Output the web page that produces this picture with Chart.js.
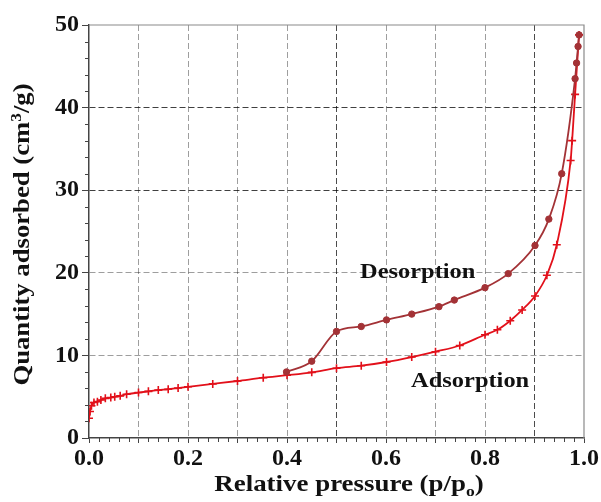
<!DOCTYPE html>
<html>
<head>
<meta charset="utf-8">
<script src="https://cdn.jsdelivr.net/npm/chart.js@4"></script>
<style>
  body { margin: 0; background: #fff; }
  #wrap { width: 601px; height: 502px; }
</style>
</head>
<body>
<div id="wrap"><canvas id="chart" width="601" height="502"></canvas></div>
<script>
// Adsorption branch (relative pressure, quantity adsorbed cm3/g)
const pressureAds = [0.000, 0.002, 0.005, 0.010, 0.017, 0.024, 0.033, 0.044, 0.052, 0.063, 0.076,
  0.100, 0.120, 0.140, 0.160, 0.180, 0.200, 0.250, 0.300, 0.352, 0.400, 0.450, 0.500, 0.550,
  0.601, 0.652, 0.700, 0.749, 0.800, 0.825, 0.851, 0.875, 0.901, 0.925, 0.945, 0.973, 0.976,
  0.982, 0.990];
const quantityAds = [2.4, 3.2, 3.9, 4.3, 4.4, 4.6, 4.8, 4.9, 5.0, 5.1, 5.3,
  5.5, 5.65, 5.8, 5.9, 6.05, 6.2, 6.55, 6.9, 7.3, 7.6, 7.95, 8.45, 8.75,
  9.2, 9.8, 10.45, 11.2, 12.5, 13.1, 14.2, 15.5, 17.2, 19.7, 23.4, 33.6, 36.0,
  41.6, 48.8];

// Desorption branch
const pressureDes = [0.399, 0.450, 0.500, 0.550, 0.601, 0.652, 0.707, 0.738, 0.800, 0.847,
  0.901, 0.929, 0.955, 0.982, 0.985, 0.988, 0.990];
const quantityDes = [8.0, 9.3, 12.9, 13.5, 14.3, 15.0, 15.9, 16.7, 18.2, 19.9,
  23.3, 26.5, 32.0, 43.5, 45.4, 47.4, 48.8];

const xTickLabels = ['0.0', '0.2', '0.4', '0.6', '0.8', '1.0'];
const yTickLabels = ['0', '10', '20', '30', '40', '50'];

const SERIF = "'Liberation Serif', 'Times New Roman', serif";
const RED = '#e2101a';
const DARK_RED = '#a33236';

const toPoints = (xs, ys) => xs.map((x, i) => ({ x, y: ys[i] }));

// Draw text made of parts (for super/subscripts), centred at 0,0 and stretched along its run.
function drawParts(ctx, parts, stretch) {
  let w = 0;
  parts.forEach(p => { ctx.font = p[1]; w += ctx.measureText(p[0]).width; });
  ctx.scale(stretch, 1);
  let cx = -w / 2;
  parts.forEach(p => { ctx.font = p[1]; ctx.fillText(p[0], cx, p[2]); cx += ctx.measureText(p[0]).width; });
}

// Frame, minor ticks, axis titles and curve labels.
const decorations = {
  id: 'decorations',
  afterDraw(chart) {
    const { ctx, chartArea: a, scales: { x, y } } = chart;
    ctx.save();

    // top/right frame lines
    ctx.strokeStyle = '#8a8a8a';
    ctx.lineWidth = 1.2;
    ctx.beginPath();
    ctx.moveTo(a.left, a.top); ctx.lineTo(a.right, a.top); ctx.lineTo(a.right, a.bottom);
    ctx.stroke();

    // minor ticks every 0.02 on x, every 2 on y
    ctx.strokeStyle = '#444';
    ctx.lineWidth = 1;
    ctx.beginPath();
    for (let i = 0; i <= 50; i++) {
      if (i % 5 === 0) continue;
      const px = Math.round(x.getPixelForValue(i / 50)) + 0.5;
      ctx.moveTo(px, a.bottom); ctx.lineTo(px, a.bottom + 4);
    }
    for (let v = 0; v <= 50; v += 2) {
      if (v % 10 === 0) continue;
      const py = Math.round(y.getPixelForValue(v)) + 0.5;
      ctx.moveTo(a.left - 4, py); ctx.lineTo(a.left, py);
    }
    ctx.stroke();

    ctx.fillStyle = '#111';
    const big = 'bold 23px ' + SERIF, small = 'bold 15px ' + SERIF;

    // y title with superscript 3
    ctx.save();
    ctx.translate(22, (a.top + a.bottom) / 2 + 3);
    ctx.rotate(-Math.PI / 2);
    ctx.textBaseline = 'middle';
    drawParts(ctx, [['Quantity adsorbed (cm', big, 1], ['3', small, -5], ['/g)', big, 1]], 1.16);
    ctx.restore();

    // x title with subscript o
    ctx.save();
    ctx.translate(349, 491);
    ctx.textBaseline = 'alphabetic';
    drawParts(ctx, [['Relative pressure (p/p', big, 0], ['o', small, 5], [')', big, 0]], 1.17);
    ctx.restore();

    // curve labels
    ctx.textBaseline = 'middle';
    const lab = 'bold 22px ' + SERIF;
    ctx.save();
    ctx.translate(x.getPixelForValue(0.664), y.getPixelForValue(20.0));
    drawParts(ctx, [['Desorption', lab, 0]], 1.11);
    ctx.restore();
    ctx.save();
    ctx.translate(x.getPixelForValue(0.77), y.getPixelForValue(6.9));
    drawParts(ctx, [['Adsorption', lab, 0]], 1.11);
    ctx.restore();

    ctx.restore();
  }
};

new Chart(document.getElementById('chart'), {
  type: 'line',
  data: {
    datasets: [
      {
        label: 'Desorption',
        data: toPoints(pressureDes, quantityDes),
        borderColor: DARK_RED,
        backgroundColor: DARK_RED,
        borderWidth: 1.8,
        pointStyle: 'circle',
        pointRadius: 3.2,
        pointBorderWidth: 1,
        cubicInterpolationMode: 'monotone'
      },
      {
        label: 'Adsorption',
        data: toPoints(pressureAds, quantityAds),
        borderColor: RED,
        backgroundColor: RED,
        borderWidth: 1.8,
        pointStyle: 'cross',
        pointRadius: 4,
        pointBorderWidth: 1.6,
        cubicInterpolationMode: 'monotone'
      }
    ]
  },
  options: {
    responsive: false,
    animation: false,
    layout: { padding: { top: 25, right: 17, left: 0, bottom: 0 } },
    plugins: { legend: { display: false }, tooltip: { enabled: false } },
    scales: {
      x: {
        type: 'linear',
        min: 0, max: 1,
        afterFit: s => { s.height = 64; },
        ticks: {
          stepSize: 0.1,
          autoSkip: false,
          maxRotation: 0,
          padding: 1,
          color: '#111',
          font: { family: SERIF, size: 24, weight: 'bold' },
          callback: v => {
            const k = Math.round(v * 10);
            return k % 2 === 0 ? xTickLabels[k / 2] : '';
          }
        },
        grid: {
          color: c => {
            const k = Math.round(c.tick.value * 10);
            if (k === 0 || k === 10) return 'rgba(0,0,0,0)';
            return (k === 5 || k === 9) ? 'rgba(0,0,0,0.7)' : 'rgba(0,0,0,0.38)';
          },
          lineWidth: 1,
          tickColor: '#444',
          tickLength: 5
        },
        border: { color: '#444', width: 1.5, dash: [6, 3] }
      },
      y: {
        min: 0, max: 50,
        afterFit: s => { s.width = 89; },
        ticks: {
          stepSize: 10,
          padding: 3,
          color: '#111',
          font: { family: SERIF, size: 24, weight: 'bold' },
          callback: v => yTickLabels[Math.round(v / 10)]
        },
        grid: {
          color: c => {
            const v = Math.round(c.tick.value);
            if (v === 0 || v === 50) return 'rgba(0,0,0,0)';
            return (v === 30 || v === 40) ? 'rgba(0,0,0,0.75)' : 'rgba(0,0,0,0.38)';
          },
          lineWidth: 1,
          tickColor: '#444',
          tickLength: 7
        },
        border: { color: '#444', width: 1.5, dash: [6, 3] }
      }
    }
  },
  plugins: [decorations]
});
</script>
</body>
</html>
